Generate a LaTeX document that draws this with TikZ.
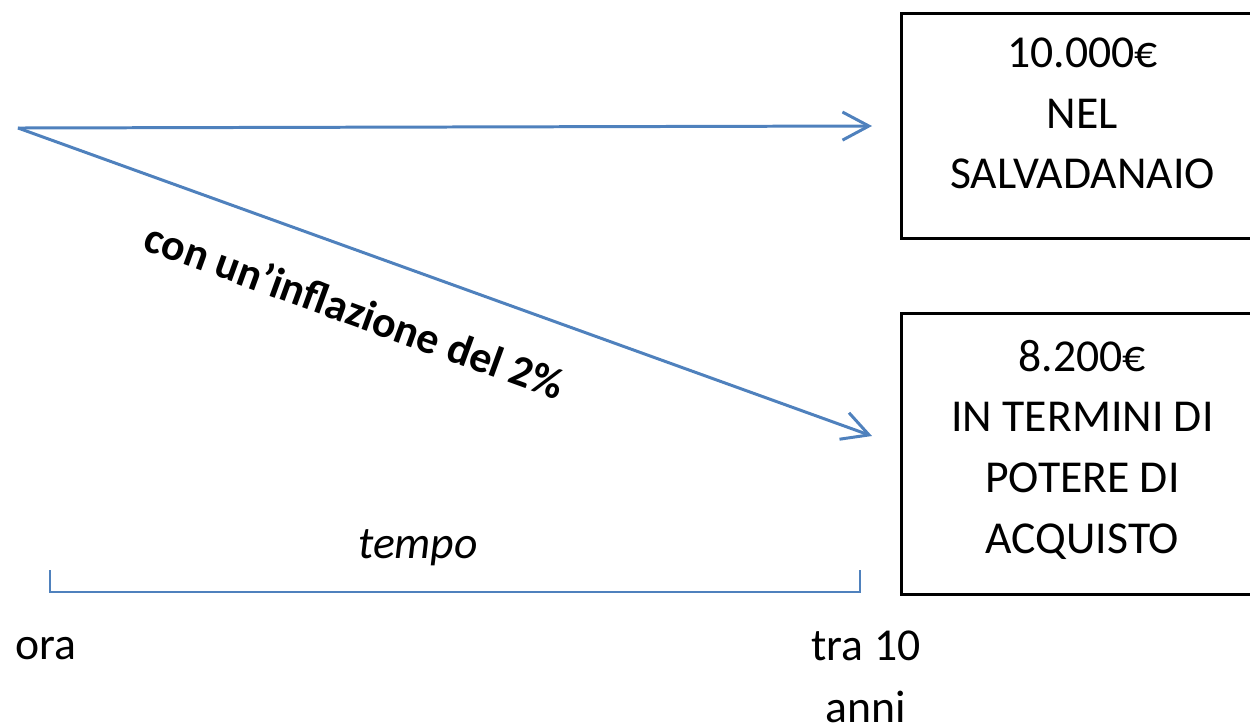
\documentclass[tikz,border=0pt]{standalone}
\usepackage{fontspec}
\setmainfont{Carlito}
\usepackage{tikz}
\usepackage{xcolor}
\usetikzlibrary{arrows.meta,positioning,calc}
\definecolor{lineblue}{RGB}{79,129,189}

\begin{document}
\begin{tikzpicture}[x=0.02cm,y=-0.02cm]
    % Define styles
    \tikzstyle{valuebox} = [rectangle, draw=black, line width=1.7pt, minimum width=7.24cm, align=center, anchor=north west, font=\fontsize{26}{34.5}\selectfont]
    \tikzstyle{label} = [align=center, font=\fontsize{26}{35}\selectfont]
    \tikzstyle{arrow} = [draw=lineblue, line width=1.7pt, -{Straight Barb[length=15pt,width=16pt,line width=1.7pt]}]
    \tikzstyle{brace} = [draw=lineblue, line width=1.5pt]

    \useasboundingbox (0,0) rectangle (1250,725);

    % Start and ends of the arrows
    \coordinate (start) at (18,128);
    \coordinate (end1) at (872,126);
    \coordinate (end2) at (872,436);

    % Boxes
    \node[valuebox, minimum height=4.5cm, text depth=0.5cm] (box1) at (900,12) {10.000€\\NEL\\SALVADANAIO};
    \node[valuebox, minimum height=5.62cm, text depth=0.3cm] (box2) at (900,312) {8.200€\\IN TERMINI DI\\POTERE DI\\ACQUISTO};

    % Arrows
    \draw[arrow] (start) -- (end1);
    \draw[arrow] (start) -- (end2);
    \node[label, font=\fontsize{25}{30}\selectfont\bfseries, rotate=-20] (infl) at (355,310) {con un’inflazione del 2\%};

    % Time span
    \coordinate (t0) at (50,570);
    \coordinate (t1) at (860,570);
    \draw[brace] (t0) -- ++(0,22) -| (t1);
    \node[label, font=\fontsize{26}{30}\selectfont\itshape] (tempo) at (418,548) {tempo};
    \node[label] (ora) at (46,649) {ora};
    \node[label] (tra) at (866,677) {tra 10\\anni};
\end{tikzpicture}
\end{document}
